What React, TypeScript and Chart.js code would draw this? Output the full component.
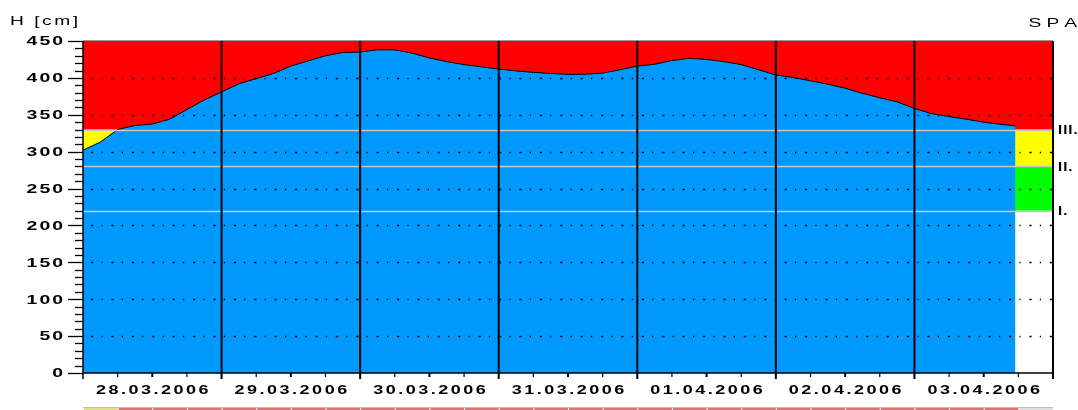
import React, { useEffect, useRef } from 'react';
import { Chart, registerables } from 'chart.js';

Chart.register(...registerables);

// ---- data (hours since 28.03.2006 00:00, water level in cm) ----
const hours = [0, 3, 6, 9, 12, 15, 18, 21, 24, 27, 30, 33, 36, 39, 42, 45, 48, 51, 54, 57, 60, 63, 66, 69, 72, 75, 78, 81, 84, 87, 90, 93, 96, 99, 102, 105, 108, 111, 114, 117, 120, 123, 126, 129, 132, 135, 138, 141, 144, 147, 150, 153, 156, 159, 161.5];
const levels = [302, 313, 330, 335.5, 337.5, 344, 357, 370, 381, 392, 399, 406, 416, 423, 430, 434.5, 435, 438, 438, 433.5, 427, 422, 418, 415, 412, 409.5, 407.5, 406, 404.8, 405, 406.5, 411, 416, 418.5, 423.5, 426.5, 425, 422, 418, 411, 404, 400.5, 396, 391.5, 386, 379, 373, 367.5, 358.5, 351.5, 347.5, 344, 340, 337, 335];

const dayLabels = ['28.03.2006', '29.03.2006', '30.03.2006', '31.03.2006', '01.04.2006', '02.04.2006', '03.04.2006'];
const dayStarts = [0, 24, 48, 72, 96, 120, 144, 168];
const xTickHours = [0, 6, 12, 18, 24, 30, 36, 42, 48, 54, 60, 66, 72, 78, 84, 90, 96, 102, 108, 114, 120, 126, 132, 138, 144, 150, 156, 162, 168];
const yTickValues = [0, 50, 100, 150, 200, 250, 300, 350, 400, 450];
const yTickLabels = ['0', '50', '100', '150', '200', '250', '300', '350', '400', '450'];
const yMinorStep = 10;
const gridValues = [50, 100, 150, 200, 250, 300, 350, 400];
const thresholds = [220, 280, 330];
const thresholdLabels = ['I.', 'II.', 'III.'];
const bandColors = ['#ffffff', '#00ff00', '#ffff00', '#ff0000'];
const stripColors = ['#f4f4f4', '#a8e0a8', '#e2e27a', '#e47070'];
const stripEmpty = '#dedede';
const yTitle = 'H [cm]';
const stationName = 'SPA';

const FONT = '"Liberation Sans", Arial, sans-serif';

function wideText(ctx: CanvasRenderingContext2D, text: string, x: number, yMid: number, size: number, weight: string, sx: number, spacing: number, align: 'left' | 'right' | 'center') {
  ctx.save();
  ctx.font = `${weight} ${size}px ${FONT}`;
  ctx.textBaseline = 'alphabetic';
  ctx.textAlign = 'left';
  ctx.fillStyle = '#000';
  const chars = Array.from(text);
  const widths = chars.map((c) => ctx.measureText(c).width * sx);
  const total = widths.reduce((s, w) => s + w, 0) + spacing * (chars.length - 1);
  let cx = align === 'right' ? x - total : align === 'center' ? x - total / 2 : x;
  const base = yMid + size * 0.716 / 2;
  chars.forEach((c, i) => {
    ctx.save();
    ctx.translate(cx, base);
    ctx.scale(sx, 1);
    ctx.fillText(c, 0, 0);
    ctx.restore();
    cx += widths[i] + spacing;
  });
  ctx.restore();
}

function bandIndex(v: number) {
  let i = 0;
  while (i < thresholds.length && v >= thresholds[i]) i++;
  return i;
}

const hydroPlugin = {
  id: 'hydro',
  beforeDatasetsDraw(chart: any) {
    const { ctx, chartArea: a, scales } = chart;
    const y = scales.y;
    ctx.save();
    for (let i = 0; i < bandColors.length; i++) {
      const lo = i === 0 ? y.min : thresholds[i - 1];
      const hi = i === bandColors.length - 1 ? y.max : thresholds[i];
      const top = y.getPixelForValue(hi);
      const bot = y.getPixelForValue(lo);
      ctx.fillStyle = bandColors[i];
      ctx.fillRect(a.left, top, a.right - a.left, bot - top);
    }
    ctx.restore();
  },
  afterDatasetsDraw(chart: any) {
    const { ctx, chartArea: a, scales } = chart;
    const x = scales.x;
    const y = scales.y;
    ctx.save();

    // threshold lines
    ctx.strokeStyle = '#c8c8c8';
    ctx.lineWidth = 1.5;
    thresholds.forEach((t) => {
      const py = Math.round(y.getPixelForValue(t)) + 0.5;
      ctx.beginPath();
      ctx.moveTo(a.left, py);
      ctx.lineTo(a.right, py);
      ctx.stroke();
    });

    // dotted grid
    ctx.strokeStyle = '#000';
    ctx.lineWidth = 1.6;
    ctx.setLineDash([2.2, 8.2, 1.2, 8.8]);
    ctx.lineDashOffset = -8;
    gridValues.forEach((g) => {
      const py = Math.round(y.getPixelForValue(g)) + 0.5;
      ctx.beginPath();
      ctx.moveTo(a.left, py);
      ctx.lineTo(a.right, py);
      ctx.stroke();
    });
    ctx.setLineDash([]);

    // top border
    ctx.strokeStyle = '#9a9a9a';
    ctx.lineWidth = 1;
    ctx.beginPath();
    ctx.moveTo(a.left, a.top - 0.5);
    ctx.lineTo(a.right, a.top - 0.5);
    ctx.stroke();

    // day separators
    ctx.strokeStyle = '#000';
    dayStarts.forEach((d, i) => {
      const px = x.getPixelForValue(d);
      ctx.lineWidth = i === 0 ? 1.5 : 2;
      ctx.beginPath();
      ctx.moveTo(px, a.top);
      ctx.lineTo(px, a.bottom + 6);
      ctx.stroke();
    });

    // bottom axis line
    ctx.lineWidth = 1.5;
    ctx.beginPath();
    ctx.moveTo(a.left, a.bottom);
    ctx.lineTo(a.right, a.bottom);
    ctx.stroke();

    // x ticks
    xTickHours.forEach((h) => {
      if (h % 24 === 0) return;
      const px = x.getPixelForValue(h);
      ctx.lineWidth = h % 24 === 12 ? 2 : 1.2;
      ctx.beginPath();
      ctx.moveTo(px, a.bottom);
      ctx.lineTo(px, a.bottom + 4);
      ctx.stroke();
    });

    // y ticks
    ctx.lineWidth = 1.3;
    for (let v = y.min; v <= y.max; v += yMinorStep) {
      const py = Math.round(y.getPixelForValue(v)) + 0.5;
      const major = yTickValues.includes(v);
      ctx.beginPath();
      ctx.moveTo(a.left - (major ? 15 : 8), py);
      ctx.lineTo(a.left, py);
      ctx.stroke();
    }

    // y tick labels
    yTickValues.forEach((v, i) => {
      wideText(ctx, yTickLabels[i], a.left - 20, y.getPixelForValue(v), 12, 'bold', 1.62, 2, 'right');
    });

    // x day labels
    dayLabels.forEach((lab, i) => {
      const px = x.getPixelForValue((dayStarts[i] + dayStarts[i + 1]) / 2);
      wideText(ctx, lab, px, a.bottom + 17, 12, 'bold', 1.5, 2.5, 'center');
    });

    // threshold labels
    thresholds.forEach((t, i) => {
      wideText(ctx, thresholdLabels[i], a.right + 5, y.getPixelForValue(t), 12, 'bold', 1.25, 1, 'left');
    });

    // titles
    wideText(ctx, yTitle, 10, 21, 12, 'normal', 1.6, 2.5, 'left');
    wideText(ctx, stationName, 1077, 23, 12, 'normal', 1.6, 5, 'right');

    // status strip (6-hour cells)
    const stripTop = a.bottom + 34;
    ctx.fillStyle = '#bdbdbd';
    ctx.fillRect(a.left, stripTop, a.right - a.left, 1);
    const lastH = hours[hours.length - 1];
    for (let k = 0; k < xTickHours.length - 1; k++) {
      const h0 = xTickHours[k];
      const h1 = xTickHours[k + 1];
      const x0 = x.getPixelForValue(h0);
      const x1 = x.getPixelForValue(h1);
      let color = stripEmpty;
      if (h0 < lastH) {
        let m = -Infinity;
        hours.forEach((h, j) => {
          if (h >= h0 && h < h1) m = Math.max(m, levels[j]);
        });
        color = stripColors[bandIndex(m)];
      }
      ctx.fillStyle = color;
      ctx.fillRect(x0 + 1, stripTop + 1, x1 - x0 - 1, 4);
    }

    ctx.restore();
  },
};

export default function App() {
  const canvasRef = useRef<HTMLCanvasElement | null>(null);

  useEffect(() => {
    const canvas = canvasRef.current;
    if (!canvas) return;
    const chart = new Chart(canvas, {
      type: 'line',
      data: {
        datasets: [
          {
            label: 'H',
            data: hours.map((h, i) => ({ x: h, y: levels[i] })),
            borderColor: '#000000',
            borderWidth: 1,
            backgroundColor: '#0099ff',
            fill: 'origin',
            pointRadius: 0,
            tension: 0,
          },
        ],
      },
      options: {
        animation: false,
        responsive: false,
        devicePixelRatio: 1,
        layout: { padding: { left: 83, right: 25, top: 41, bottom: 37 } },
        scales: {
          x: { type: 'linear', min: 0, max: 168, display: false },
          y: { type: 'linear', min: 0, max: 450, display: false },
        },
        plugins: {
          legend: { display: false },
          tooltip: { enabled: false },
        },
      },
      plugins: [hydroPlugin],
    });
    return () => chart.destroy();
  }, []);

  return (
    <div style={{ position: 'fixed', left: 0, top: 0, width: 1078, height: 410, background: '#fff' }}>
      <canvas ref={canvasRef} width={1078} height={410} style={{ display: 'block' }} />
    </div>
  );
}
